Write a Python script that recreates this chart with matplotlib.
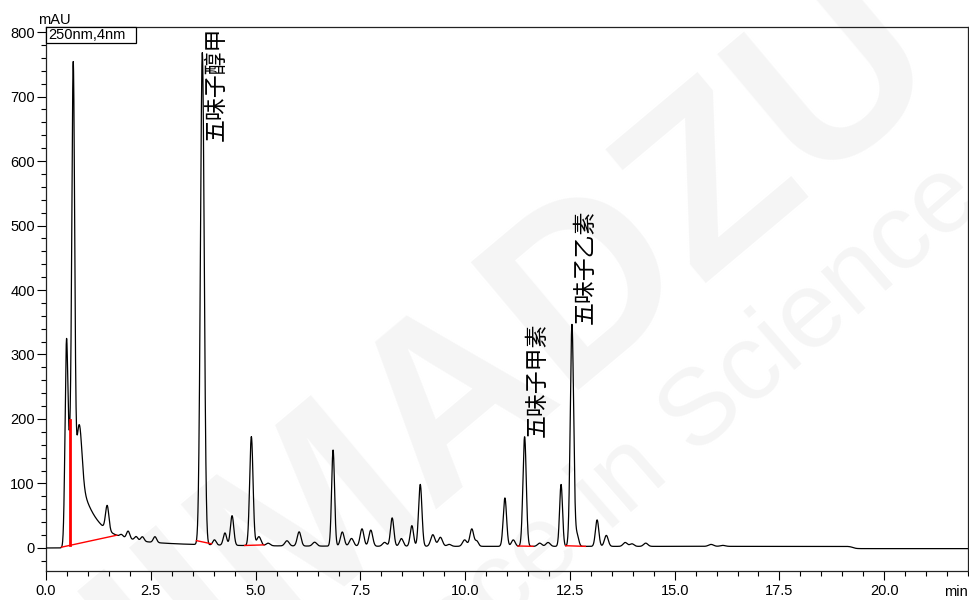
import numpy as np
import matplotlib
matplotlib.use("Agg")
import matplotlib.pyplot as plt
from matplotlib.patches import Rectangle

# ---------------- data ----------------
# retention time (min), peak height above background (mAU), peak sigma (min)
peak_times = [0.49, 0.57, 0.65, 0.80, 1.46, 1.80, 1.96, 2.15, 2.30, 2.60,
              3.73, 4.02, 4.27, 4.44, 4.90, 5.08, 5.30, 5.75, 6.04, 6.41,
              6.85, 7.07, 7.29, 7.54, 7.75, 8.08, 8.26, 8.48, 8.73, 8.93,
              9.23, 9.41, 9.62, 9.99, 10.16, 10.28, 10.95, 11.15, 11.42, 11.78,
              11.98, 12.29, 12.55, 12.67, 13.15, 13.37, 13.82, 13.98, 14.31, 15.87,
              16.15]
peak_heights = [302, 100, 722, 80, 38, 4, 12, 6, 7, 9,
                763, 8, 19, 46, 169, 14, 4, 8, 22, 6,
                149, 22, 12, 27, 25, 6, 44, 12, 32, 96,
                18, 14, 3, 10, 27, 8, 75, 10, 170, 5,
                6, 96, 344, 18, 41, 17, 6, 4, 5, 3,
                1.5]
peak_widths = [0.035, 0.03, 0.035, 0.06, 0.04, 0.04, 0.04, 0.04, 0.04, 0.04,
               0.045, 0.04, 0.04, 0.04, 0.04, 0.05, 0.05, 0.05, 0.045, 0.05,
               0.035, 0.045, 0.05, 0.045, 0.045, 0.05, 0.04, 0.045, 0.04, 0.04,
               0.05, 0.05, 0.05, 0.05, 0.045, 0.04, 0.04, 0.045, 0.04, 0.05,
               0.05, 0.035, 0.04, 0.04, 0.04, 0.045, 0.05, 0.05, 0.05, 0.06,
               0.06]

# solvent-front tail and baseline drift
front_tail = {"start": 0.72, "height": 115, "tau": 0.35}
slow_drift = {"start": 0.65, "height": 20, "tau": 1.5, "onset": 0.45}
baseline_levels = [0.0, 2.5, -1.0]          # before front, run, after step
baseline_step_time = 19.25

# integration baselines (start, end) and drop line times
integration_segments = [(0.37, 1.69), (3.59, 3.95), (4.74, 5.20),
                        (11.26, 11.62), (12.40, 12.87)]
drop_line_times = [0.57]

# peak identification labels
label_names = ["五味子醇甲", "五味子甲素", "五味子乙素"]
label_times = [3.73, 11.42, 12.55]

detector_text = "250nm,4nm"
x_ticks = [0.0, 2.5, 5.0, 7.5, 10.0, 12.5, 15.0, 17.5, 20.0]
y_ticks = [0, 100, 200, 300, 400, 500, 600, 700, 800]

# ---------------- build trace ----------------
t = np.linspace(0, 22, 8801)
sig = np.zeros_like(t)
for rt, h, w in zip(peak_times, peak_heights, peak_widths):
    sig += h * np.exp(-0.5 * ((t - rt) / w) ** 2)

def step(x, x0, s):
    return 1.0 / (1.0 + np.exp(-(x - x0) / s))

sig += front_tail["height"] * np.exp(-np.clip(t - front_tail["start"], 0, None) / front_tail["tau"]) \
    * step(t, front_tail["start"], 0.02)
onset = step(t, slow_drift["onset"], 0.02)
sig += slow_drift["height"] * np.exp(-np.clip(t - slow_drift["start"], 0, None) / slow_drift["tau"]) * onset
level = baseline_levels[1] + (baseline_levels[2] - baseline_levels[1]) * step(t, baseline_step_time, 0.04)
sig += level * onset

# ---------------- figure ----------------
W, H = 970, 600
fig = plt.figure(figsize=(W / 100, H / 100), dpi=100)
fig.patch.set_facecolor("white")

# faint watermark (behind the axes)
wm = "#f5f5f5"
fig.text(0.43, 0.27, "SHIMADZU", fontsize=175, fontweight="bold", color=wm,
         rotation=40, ha="center", va="center", family="Liberation Sans", zorder=0)
fig.text(985 / W, 1 - 204 / H, "Excellence in Science", fontsize=78, color=wm,
         rotation=41, rotation_mode="anchor", ha="right", va="baseline",
         family="Liberation Sans", zorder=0)

ax = fig.add_axes([46 / W, 29 / H, 922 / W, 544 / H])
ax.set_zorder(2)
ax.patch.set_alpha(0)

ax.plot(t, sig, color="black", lw=0.9, zorder=3)

for a, b in integration_segments:
    ax.plot([a, b], [np.interp(a, t, sig), np.interp(b, t, sig)], color="red", lw=1.0, zorder=4)
for d in drop_line_times:
    seg = [s for s in integration_segments if s[0] <= d <= s[1]][0]
    ya, yb = np.interp(seg[0], t, sig), np.interp(seg[1], t, sig)
    yb_at = ya + (yb - ya) * (d - seg[0]) / (seg[1] - seg[0])
    ax.plot([d, d], [yb_at, np.interp(d, t, sig)], color="red", lw=2.0, zorder=4)

ymin, ymax = -35.7, 807.8
ax.set_xlim(0, 22)
ax.set_ylim(ymin, ymax)

cjk = ["Noto Sans CJK SC", "DejaVu Sans"]
for name, rt in zip(label_names, label_times):
    h = np.interp(rt, t, sig)
    if h + 185 > ymax:
        ax.annotate(name, xy=(rt, ymax), xytext=(2, 0), textcoords="offset points",
                    rotation=90, ha="left", va="top", fontsize=16.5, family=cjk, zorder=5)
    else:
        ax.annotate(name, xy=(rt, h), xytext=(1, 0), textcoords="offset points",
                    rotation=90, ha="left", va="bottom", fontsize=16.5, family=cjk, zorder=5)

# detector box
ax.add_patch(Rectangle((0, 1 - 16 / 544), 90 / 922, 16 / 544, transform=ax.transAxes,
                       facecolor="white", edgecolor="black", lw=0.9, zorder=6, clip_on=False))
ax.text(2 / 922, 1 - 8 / 544, detector_text, transform=ax.transAxes, ha="left", va="center",
        fontsize=10.5, family="Liberation Sans", zorder=7)

# ticks
ax.set_xticks(x_ticks)
ax.set_xticklabels([f"{v:.1f}" for v in x_ticks])
ax.set_xticks(np.arange(0, 22.01, 0.5), minor=True)
ax.set_yticks(y_ticks)
ax.set_yticklabels([str(v) for v in y_ticks])
ax.set_yticks(np.arange(-20, 801, 20), minor=True)
ax.tick_params(which="major", length=6.5, width=0.8, direction="out", labelsize=10.5)
ax.tick_params(which="minor", length=3.6, width=0.8, direction="out")
ax.tick_params(axis="x", which="major", pad=3.0)
ax.tick_params(axis="y", which="major", pad=1.5)
for lab in ax.get_xticklabels() + ax.get_yticklabels():
    lab.set_family("Liberation Sans")
for sp in ax.spines.values():
    sp.set_linewidth(0.9)
    sp.set_color("#222222")

fig.text(38 / W, 1 - 24 / H, "mAU", fontsize=10.5, family="Liberation Sans",
         ha="left", va="baseline", zorder=3)
fig.text(968 / W, 1 - 596 / H, "min", fontsize=10.5, family="Liberation Sans",
         ha="right", va="baseline", zorder=3)

fig.savefig("out.png", dpi=100, facecolor="white")
